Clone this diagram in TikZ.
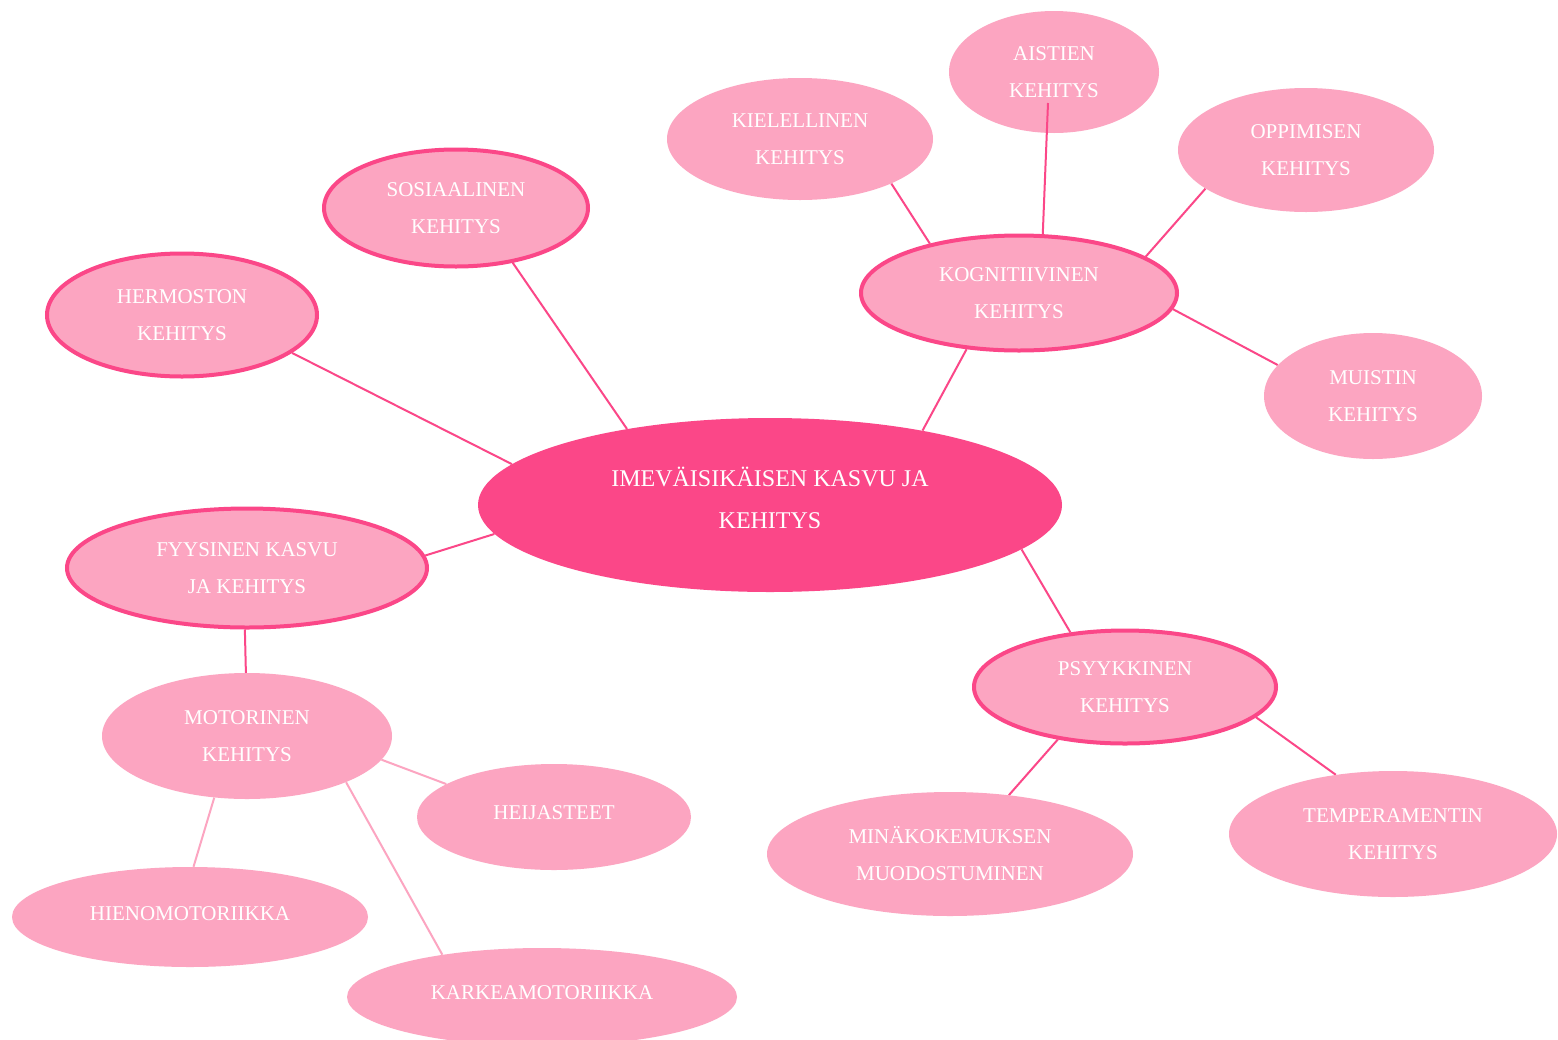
\documentclass[tikz,border=0pt]{standalone}
\usepackage{fontspec}
\setmainfont{Liberation Serif}
\usetikzlibrary{shapes.geometric}
\definecolor{pinkdark}{RGB}{251,71,136}
\definecolor{pinklight}{RGB}{252,165,193}
\pgfdeclarelayer{backdrop}
\pgfdeclarelayer{background}
\pgfsetlayers{backdrop,background,main}
\begin{document}
\begin{tikzpicture}[x=1pt,y=-1pt,
  bubble/.style={ellipse, fill=pinklight, text=white, align=center, inner sep=0pt, font=\fontsize{21}{37}\selectfont},
  ringed/.style={bubble, draw=pinkdark, line width=4pt},
  hub/.style={ellipse, fill=pinkdark, text=white, align=center, inner sep=0pt, font=\fontsize{24}{42}\selectfont},
  link/.style={draw=pinkdark, line width=2pt},
  sublink/.style={draw=pinklight, line width=2pt}]
\useasboundingbox (0,0) rectangle (1558,1039);
\begin{pgfonlayer}{backdrop}
\fill[white] (0,0) rectangle (1558,1039);
\end{pgfonlayer}

\node[hub, minimum width=584pt, minimum height=174pt, text depth=14pt] (main) at (770,505) {IMEVÄISIKÄISEN KASVU JA\\KEHITYS};

\node[ringed, minimum width=270pt, minimum height=123pt] (hermo) at (182,315) {HERMOSTON\\KEHITYS};
\node[ringed, minimum width=264pt, minimum height=117pt] (sos) at (456,208) {SOSIAALINEN\\KEHITYS};
\node[bubble, minimum width=266pt, minimum height=122pt] (kiel) at (800,139) {KIELELLINEN\\KEHITYS};
\node[bubble, minimum width=210pt, minimum height=122pt] (aist) at (1054,72) {AISTIEN\\KEHITYS};
\node[bubble, minimum width=256pt, minimum height=124pt] (opp) at (1306,150) {OPPIMISEN\\KEHITYS};
\node[ringed, minimum width=316pt, minimum height=115pt] (kogn) at (1019,293) {KOGNITIIVINEN\\KEHITYS};
\node[bubble, minimum width=218pt, minimum height=126pt] (muist) at (1373,396) {MUISTIN\\KEHITYS};
\node[ringed, minimum width=360pt, minimum height=119pt] (fyys) at (247,568) {FYYSINEN KASVU\\JA KEHITYS};
\node[bubble, minimum width=290pt, minimum height=126pt] (motor) at (247,736) {MOTORINEN\\KEHITYS};
\node[bubble, minimum width=274pt, minimum height=106pt, text depth=8pt] (heij) at (554,817) {HEIJASTEET};
\node[bubble, minimum width=356pt, minimum height=100pt, text depth=6pt] (hieno) at (190,917) {HIENOMOTORIIKKA};
\node[bubble, minimum width=390pt, minimum height=98pt, text depth=8pt] (karkea) at (542,997) {KARKEAMOTORIIKKA};
\node[ringed, minimum width=302pt, minimum height=113pt] (psyyk) at (1125,687) {PSYYKKINEN\\KEHITYS};
\node[bubble, minimum width=366pt, minimum height=124pt, text depth=2pt] (mina) at (950,854) {MINÄKOKEMUKSEN\\MUODOSTUMINEN};
\node[bubble, minimum width=328pt, minimum height=126pt] (temp) at (1393,834) {TEMPERAMENTIN\\KEHITYS};

\coordinate (aistfoot) at ([shift={(-6,31)}]aist.center);
\draw[link] (aistfoot) -- (kogn.68);

\begin{pgfonlayer}{background}
\draw[link] (hermo.-19.4) -- (main.171.5);
\draw[link] (sos.-44) -- (main.152.5);
\draw[link] (kogn.227) -- (main.26.6);
\draw[link] (fyys.4.4) -- (main.186.4);
\draw[link] (main.-10.4) -- (psyyk.135);
\draw[link] (kiel.-26) -- (kogn.151);
\draw[link] (opp.-159) -- (kogn.16);
\draw[link] (kogn.-6) -- (muist.162);
\draw[link] (fyys.-92) -- (motor.91);
\draw[link] (psyyk.-142.4) -- (mina.45.5);
\draw[link] (psyyk.-13.5) -- (temp.134.5);
\draw[sublink] (motor.-10) -- (heij.163.6);
\draw[sublink] (motor.-118.7) -- (hieno.86.6);
\draw[sublink] (motor.-25.8) -- (karkea.157.6);
\end{pgfonlayer}
\end{tikzpicture}
\end{document}
